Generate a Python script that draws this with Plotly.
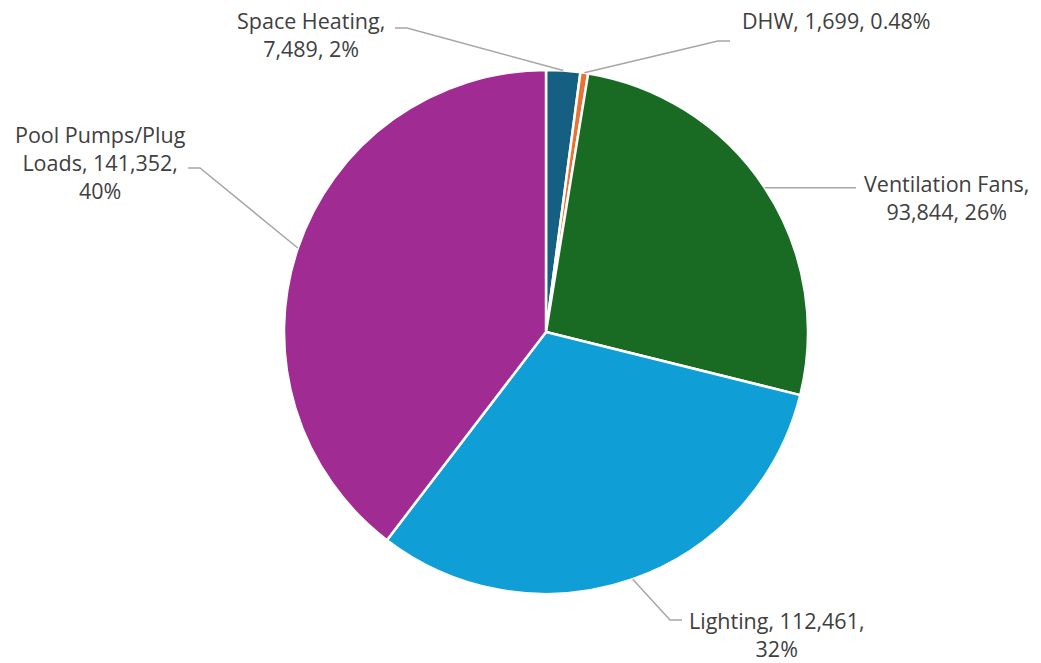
import math
import plotly.graph_objects as go

# Annual electricity use by end use (kWh)
categories = ["Space Heating", "DHW", "Ventilation Fans", "Lighting", "Pool Pumps/Plug Loads"]
values = [7489, 1699, 93844, 112461, 141352]
colors = ["#156082", "#E97132", "#196B24", "#0F9ED5", "#A02B93"]

W, H = 1041, 663
# pie bounding box in pixels (left, top, right, bottom)
PIE_BOX = (284, 70, 808, 594)
cx = (PIE_BOX[0] + PIE_BOX[2]) / 2
cy = (PIE_BOX[1] + PIE_BOX[3]) / 2
R = (PIE_BOX[2] - PIE_BOX[0]) / 2

# label layout: text lines, text centre (px), leader elbow points (px)
label_layout = [
    dict(lines=["Space Heating,", "{v}, {p}"], center=(311, 34), elbow=[(407, 28), (395, 28)]),
    dict(lines=["DHW, {v}, {p}"], center=(836, 20), elbow=[(718, 41), (730, 41)]),
    dict(lines=["Ventilation Fans,", "{v}, {p}"], center=(946, 197), elbow=[(856, None)]),
    dict(lines=["Lighting, {v},", "{p}"], center=(777, 634), elbow=[(670, 620), (682, 620)]),
    dict(lines=["Pool Pumps/Plug", "Loads, {v},", "{p}"], center=(100, 162), elbow=[(200, 168), (188, 168)]),
]


def px(x):
    return x / W


def py(y):
    return 1 - y / H


def fmt_pct(share):
    pct = share * 100
    return f"{pct:.2f}%" if pct < 1 else f"{pct:.0f}%"


total = sum(values)

fig = go.Figure(
    go.Pie(
        labels=categories,
        values=values,
        sort=False,
        direction="clockwise",
        rotation=0,
        marker=dict(colors=colors, line=dict(color="white", width=2.5)),
        textinfo="none",
        hoverinfo="label+value+percent",
        showlegend=False,
        domain=dict(x=[px(PIE_BOX[0]), px(PIE_BOX[2])], y=[py(PIE_BOX[3]), py(PIE_BOX[1])]),
    )
)

shapes = []
annotations = []
cum = 0
for cat, val, lay in zip(categories, values, label_layout):
    mid = (cum + val / 2) / total * 2 * math.pi
    cum += val
    ex = cx + R * math.sin(mid)
    ey = cy - R * math.cos(mid)
    pts = [(ex, ey)]
    for (x, y) in lay["elbow"]:
        pts.append((x, ey if y is None else y))
    path = "M " + " L ".join(f"{px(x)},{py(y)}" for x, y in pts)
    shapes.append(dict(type="path", xref="paper", yref="paper", path=path,
                       line=dict(color="#A6A6A6", width=1.5)))
    text = "<br>".join(l.format(v=f"{val:,}", p=fmt_pct(val / total)) for l in lay["lines"])
    annotations.append(dict(
        text=text, xref="paper", yref="paper",
        x=px(lay["center"][0]), y=py(lay["center"][1]),
        xanchor="center", yanchor="middle", align="center",
        showarrow=False, font=dict(size=21.5, color="#404040"),
    ))

fig.update_layout(
    width=W, height=H,
    margin=dict(l=0, r=0, t=0, b=0),
    paper_bgcolor="white", plot_bgcolor="white",
    font=dict(family="Open Sans, Noto Sans, sans-serif", color="#404040"),
    shapes=shapes, annotations=annotations,
)

fig.write_html("out.html")
